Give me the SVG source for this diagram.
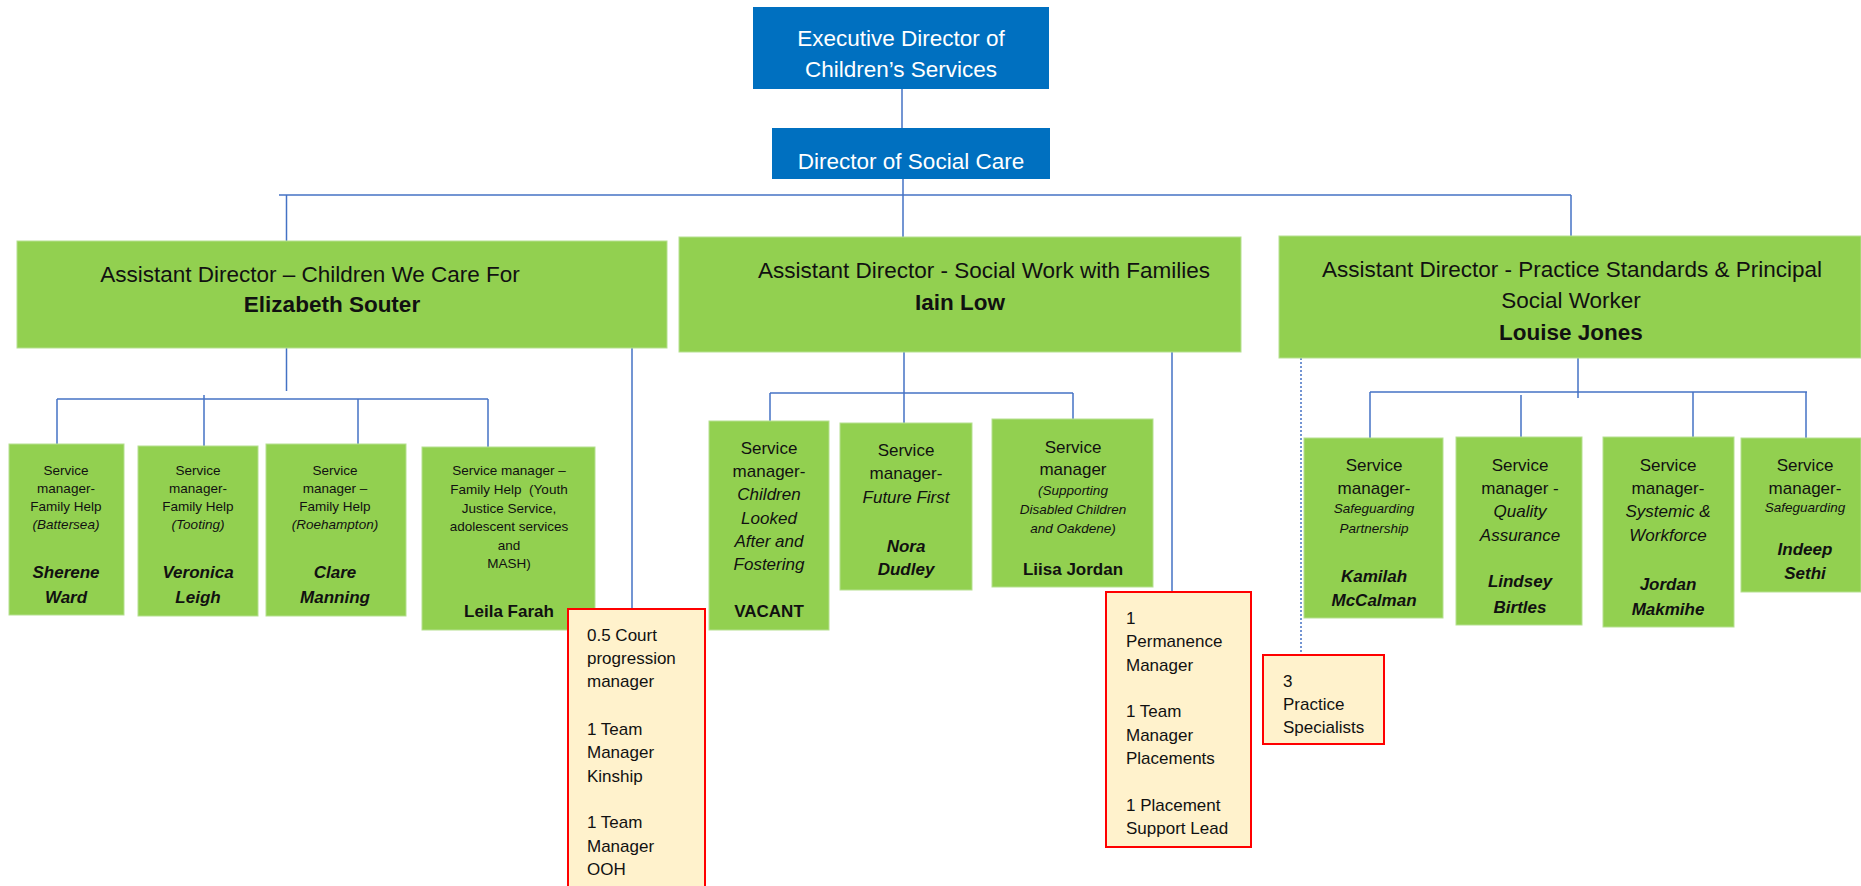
<svg xmlns="http://www.w3.org/2000/svg" width="1861" height="886" viewBox="0 0 1861 886">
<style>
.blue{fill:#0070C0}
.green{fill:#92D050;stroke:#B5E08F;stroke-width:1}
.red{fill:#FFF2CC;stroke:#FF0000;stroke-width:2}
.ln{stroke:#4472C4;stroke-width:1.5;fill:none}
.dot{stroke:#4472C4;stroke-width:1.5;fill:none;stroke-dasharray:2 2}
text{font-family:"Liberation Sans",Arial,sans-serif;fill:#111}
.wt{fill:#fff;font-size:22.5px;text-anchor:middle}
.ad{font-size:22.5px;text-anchor:middle}
.adb{font-size:22.5px;font-weight:bold;text-anchor:middle}
.s1{font-size:13.5px;text-anchor:middle}
.s1i{font-size:13.5px;font-style:italic;text-anchor:middle}
.n1{font-size:17px;font-weight:bold;font-style:italic;text-anchor:middle}
.s2{font-size:17px;text-anchor:middle}
.s2i{font-size:17px;font-style:italic;text-anchor:middle}
.s2b{font-size:17px;font-weight:bold;text-anchor:middle}
.r{font-size:17px}
</style>

<g id="connectors">
<line class="ln" x1="902" y1="89" x2="902" y2="128"/>
<line class="ln" x1="903" y1="179" x2="903" y2="237"/>
<line class="ln" x1="279" y1="195" x2="1571" y2="195"/>
<line class="ln" x1="286.5" y1="195" x2="286.5" y2="241"/>
<line class="ln" x1="1571" y1="195" x2="1571" y2="236"/>
<line class="ln" x1="286.5" y1="348" x2="286.5" y2="391"/>
<line class="ln" x1="57" y1="399" x2="488" y2="399"/>
<line class="ln" x1="57" y1="399" x2="57" y2="444"/>
<line class="ln" x1="204" y1="395" x2="204" y2="446"/>
<line class="ln" x1="358" y1="399" x2="358" y2="444"/>
<line class="ln" x1="488" y1="399" x2="488" y2="447"/>
<line class="ln" x1="632" y1="348" x2="632" y2="609"/>
<line class="ln" x1="904" y1="352" x2="904" y2="423"/>
<line class="ln" x1="770" y1="393" x2="1073" y2="393"/>
<line class="ln" x1="770" y1="393" x2="770" y2="421"/>
<line class="ln" x1="1073" y1="393" x2="1073" y2="419"/>
<line class="ln" x1="1172" y1="352" x2="1172" y2="592"/>
<line class="dot" x1="1301" y1="358" x2="1301" y2="655"/>
<line class="ln" x1="1578" y1="358" x2="1578" y2="398"/>
<line class="ln" x1="1370" y1="392" x2="1807" y2="392"/>
<line class="ln" x1="1370" y1="392" x2="1370" y2="438"/>
<line class="ln" x1="1521" y1="395" x2="1521" y2="437"/>
<line class="ln" x1="1693" y1="392" x2="1693" y2="437"/>
<line class="ln" x1="1806" y1="392" x2="1806" y2="438"/>
</g>

<g id="exec">
<rect class="blue" x="753" y="7" width="296" height="82"/>
<text class="wt" x="901" y="46">Executive Director of</text>
<text class="wt" x="901" y="77">Children’s Services</text>
</g>

<g id="director">
<rect class="blue" x="772" y="128" width="278" height="51"/>
<text class="wt" x="911" y="169">Director of Social Care</text>
</g>

<g id="ad1">
<rect class="green" x="17" y="241" width="650" height="107"/>
<text class="ad" x="310" y="282">Assistant Director – Children We Care For</text>
<text class="adb" x="332" y="312">Elizabeth Souter</text>
</g>

<g id="ad2">
<rect class="green" x="679" y="237" width="562" height="115"/>
<text class="ad" x="984" y="278">Assistant Director - Social Work with Families</text>
<text class="adb" x="960" y="310">Iain Low</text>
</g>

<g id="ad3">
<rect class="green" x="1279" y="236" width="582" height="122"/>
<text class="ad" x="1572" y="277">Assistant Director - Practice Standards &amp; Principal</text>
<text class="ad" x="1571" y="308">Social Worker</text>
<text class="adb" x="1571" y="340">Louise Jones</text>
</g>

<g id="sm-sherene">
<rect class="green" x="9" y="444" width="115" height="171"/>
<text class="s1" x="66" y="475">Service</text>
<text class="s1" x="66" y="493">manager-</text>
<text class="s1" x="66" y="511">Family Help</text>
<text class="s1i" x="66" y="529">(Battersea)</text>
<text class="n1" x="66" y="578">Sherene</text>
<text class="n1" x="66" y="603">Ward</text>
</g>

<g id="sm-veronica">
<rect class="green" x="138" y="446" width="120" height="170"/>
<text class="s1" x="198" y="475">Service</text>
<text class="s1" x="198" y="493">manager-</text>
<text class="s1" x="198" y="511">Family Help</text>
<text class="s1i" x="198" y="529">(Tooting)</text>
<text class="n1" x="198" y="578">Veronica</text>
<text class="n1" x="198" y="603">Leigh</text>
</g>

<g id="sm-clare">
<rect class="green" x="266" y="444" width="140" height="172"/>
<text class="s1" x="335" y="475">Service</text>
<text class="s1" x="335" y="493">manager –</text>
<text class="s1" x="335" y="511">Family Help</text>
<text class="s1i" x="335" y="529">(Roehampton)</text>
<text class="n1" x="335" y="578">Clare</text>
<text class="n1" x="335" y="603">Manning</text>
</g>

<g id="sm-leila">
<rect class="green" x="422" y="447" width="173" height="183"/>
<text class="s1" x="509" y="475">Service manager –</text>
<text class="s1" x="509" y="494">Family Help &#160;(Youth</text>
<text class="s1" x="509" y="513">Justice Service,</text>
<text class="s1" x="509" y="531">adolescent services</text>
<text class="s1" x="509" y="550">and</text>
<text class="s1" x="509" y="568">MASH)</text>
<text class="s2b" x="509" y="617">Leila Farah</text>
</g>

<g id="court">
<rect class="red" x="568" y="609" width="137" height="290"/>
<text class="r" x="587" y="641">0.5 Court</text>
<text class="r" x="587" y="664">progression</text>
<text class="r" x="587" y="687">manager</text>
<text class="r" x="587" y="735">1 Team</text>
<text class="r" x="587" y="758">Manager</text>
<text class="r" x="587" y="782">Kinship</text>
<text class="r" x="587" y="828">1 Team</text>
<text class="r" x="587" y="852">Manager</text>
<text class="r" x="587" y="875">OOH</text>
</g>

<g id="sm-children">
<rect class="green" x="709" y="421" width="120" height="209"/>
<text class="s2" x="769" y="454">Service</text>
<text class="s2" x="769" y="477">manager-</text>
<text class="s2i" x="769" y="500">Children</text>
<text class="s2i" x="769" y="524">Looked</text>
<text class="s2i" x="769" y="547">After and</text>
<text class="s2i" x="769" y="570">Fostering</text>
<text class="s2b" x="769" y="617">VACANT</text>
</g>

<g id="sm-nora">
<rect class="green" x="840" y="423" width="132" height="167"/>
<text class="s2" x="906" y="456">Service</text>
<text class="s2" x="906" y="479">manager-</text>
<text class="s2i" x="906" y="503">Future First</text>
<text class="s2b" x="906" y="552" font-style="italic">Nora</text>
<text class="s2b" x="906" y="575" font-style="italic">Dudley</text>
</g>

<g id="sm-liisa">
<rect class="green" x="992" y="419" width="161" height="168"/>
<text class="s2" x="1073" y="453">Service</text>
<text class="s2" x="1073" y="475">manager</text>
<text class="s1i" x="1073" y="495">(Supporting</text>
<text class="s1i" x="1073" y="514">Disabled Children</text>
<text class="s1i" x="1073" y="533">and Oakdene)</text>
<text class="s2b" x="1073" y="575">Liisa Jordan</text>
</g>

<g id="permanence">
<rect class="red" x="1106" y="592" width="145" height="255"/>
<text class="r" x="1126" y="624">1</text>
<text class="r" x="1126" y="647">Permanence</text>
<text class="r" x="1126" y="671">Manager</text>
<text class="r" x="1126" y="717">1 Team</text>
<text class="r" x="1126" y="741">Manager</text>
<text class="r" x="1126" y="764">Placements</text>
<text class="r" x="1126" y="811">1 Placement</text>
<text class="r" x="1126" y="834">Support Lead</text>
</g>

<g id="practice">
<rect class="red" x="1263" y="655" width="121" height="89"/>
<text class="r" x="1283" y="687">3</text>
<text class="r" x="1283" y="710">Practice</text>
<text class="r" x="1283" y="733">Specialists</text>
</g>

<g id="sm-kamilah">
<rect class="green" x="1304" y="438" width="139" height="180"/>
<text class="s2" x="1374" y="471">Service</text>
<text class="s2" x="1374" y="494">manager-</text>
<text class="s1i" x="1374" y="513">Safeguarding</text>
<text class="s1i" x="1374" y="533">Partnership</text>
<text class="n1" x="1374" y="582">Kamilah</text>
<text class="n1" x="1374" y="606">McCalman</text>
</g>

<g id="sm-lindsey">
<rect class="green" x="1456" y="437" width="126" height="188"/>
<text class="s2" x="1520" y="471">Service</text>
<text class="s2" x="1520" y="494">manager -</text>
<text class="s2i" x="1520" y="517">Quality</text>
<text class="s2i" x="1520" y="541">Assurance</text>
<text class="n1" x="1520" y="587">Lindsey</text>
<text class="n1" x="1520" y="613">Birtles</text>
</g>

<g id="sm-jordan">
<rect class="green" x="1603" y="437" width="131" height="190"/>
<text class="s2" x="1668" y="471">Service</text>
<text class="s2" x="1668" y="494">manager-</text>
<text class="s2i" x="1668" y="517">Systemic &amp;</text>
<text class="s2i" x="1668" y="541">Workforce</text>
<text class="n1" x="1668" y="590">Jordan</text>
<text class="n1" x="1668" y="615">Makmihe</text>
</g>

<g id="sm-indeep">
<rect class="green" x="1741" y="438" width="120" height="154"/>
<text class="s2" x="1805" y="471">Service</text>
<text class="s2" x="1805" y="494">manager-</text>
<text class="s1i" x="1805" y="512">Safeguarding</text>
<text class="n1" x="1805" y="555">Indeep</text>
<text class="n1" x="1805" y="579">Sethi</text>
</g>
</svg>
